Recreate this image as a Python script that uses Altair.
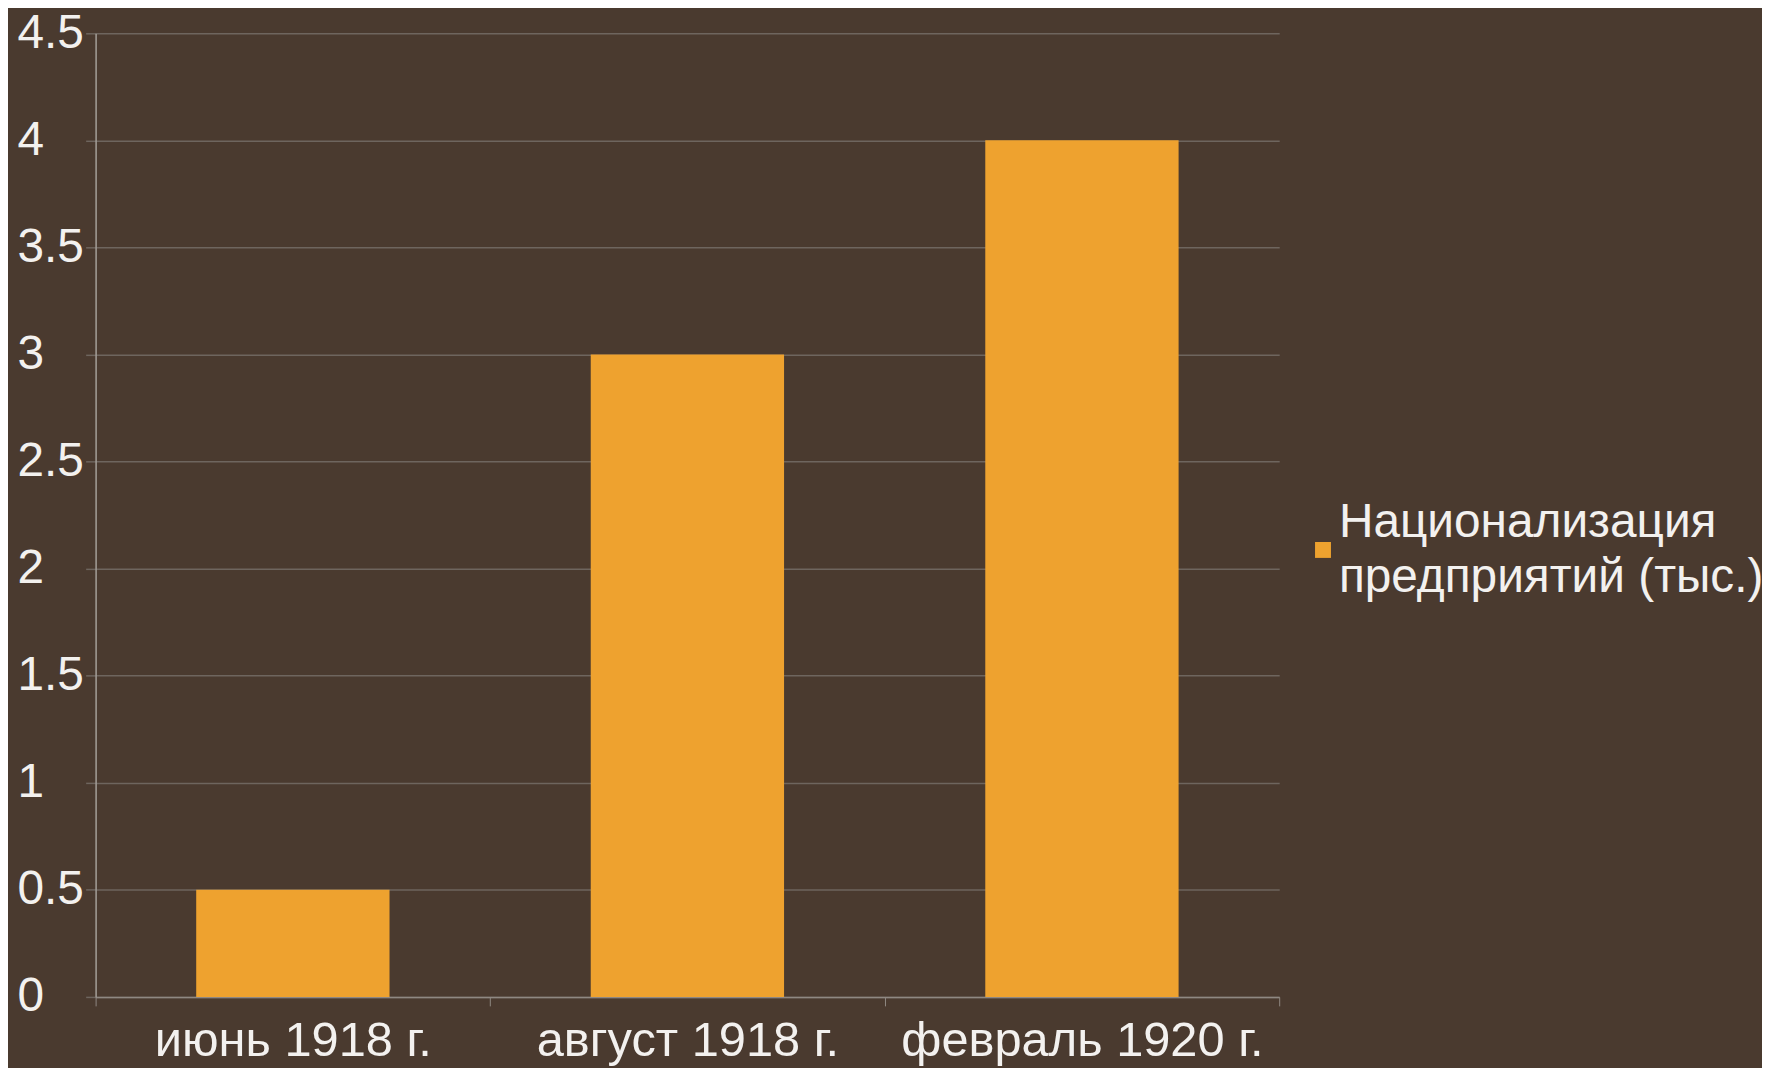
import altair as alt
import pandas as pd

categories = ["июнь 1918 г.", "август 1918 г.", "февраль 1920 г."]
values = [0.5, 3, 4]
series_name = "Национализация предприятий (тыс.)"
legend_lines = ["Национализация", "предприятий (тыс.)"]
y_ticks = [0, 0.5, 1, 1.5, 2, 2.5, 3, 3.5, 4, 4.5]

df = pd.DataFrame({"cat": categories, "val": values, "series": [series_name] * len(categories)})

BG = "#4a3a2f"
BAR = "#eea22f"
TXT = "#f3f1ef"
GRID = "#6e655e"
FONT = "Liberation Sans"
FS = 48

chart = alt.Chart(df).mark_bar(width=alt.RelativeBandSize(0.49)).encode(
    x=alt.X("cat:N", sort=categories, title=None,
            scale=alt.Scale(paddingInner=0, paddingOuter=0),
            axis=alt.Axis(labelAngle=0, labelFontSize=49, labelFont=FONT, labelColor=TXT,
                          tickBand="extent", tickSize=9, tickColor="#8f8882",
                          domainColor="#8f8882", domainWidth=1.5, labelPadding=11,
                          grid=False, labelLimit=600)),
    y=alt.Y("val:Q", title=None,
            scale=alt.Scale(domain=[0, 4.5], nice=False),
            axis=alt.Axis(values=y_ticks, format="~g", labelFontSize=FS, labelFont=FONT,
                          labelColor=TXT, labelAlign="left", labelPadding=69,
                          tickSize=10, tickColor=GRID, tickWidth=1.5,
                          domainColor="#a59f99", domainWidth=1.5,
                          gridColor=GRID, gridWidth=1.5)),
    color=alt.Color("series:N", scale=alt.Scale(range=[BAR]),
                    legend=alt.Legend(title=legend_lines, titleOrient="right",
                                      titleAnchor="middle", titleBaseline="middle",
                                      titleLineHeight=55, titleFontSize=FS, titleFont=FONT,
                                      titleFontWeight="normal", titleColor=TXT,
                                      titleLimit=800, titlePadding=8,
                                      orient="none", legendX=1225, legendY=511,
                                      symbolType="square", symbolSize=256, symbolStrokeWidth=0,
                                      labelExpr="''", labelOffset=0, labelFontSize=1)),
).properties(
    width=1189, height=968,
    background=BG,
    padding={"left": 88, "top": 23, "right": 485, "bottom": 69},
    autosize=alt.AutoSizeParams(type="none"),
).configure_view(stroke=None)

chart.save("out.html", embed_options={"renderer": "svg", "actions": False})
